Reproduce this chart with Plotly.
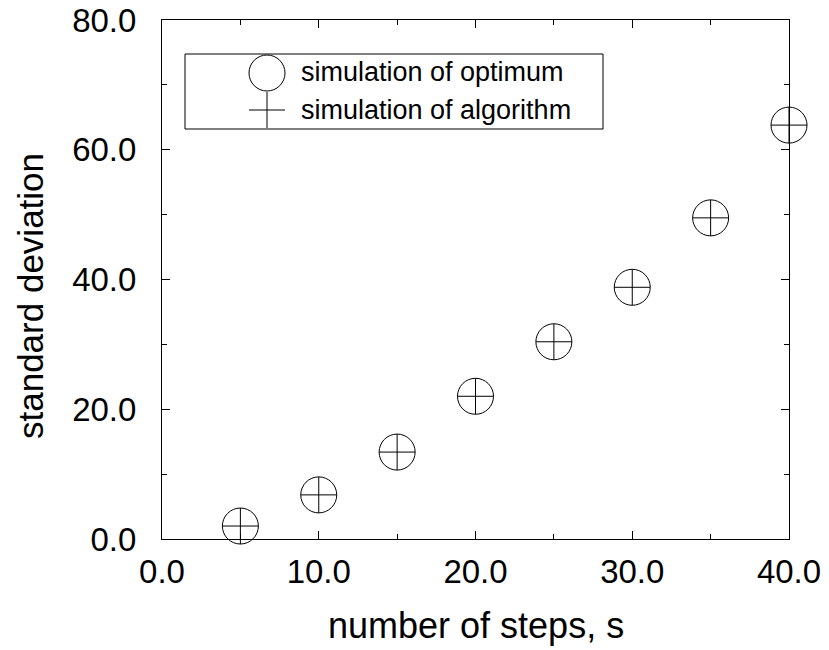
import plotly.graph_objects as go

steps = [5, 10, 15, 20, 25, 30, 35, 40]
sd_optimum = [2.0, 6.8, 13.4, 22.0, 30.4, 38.8, 49.5, 63.8]
sd_algorithm = [2.0, 6.8, 13.4, 22.0, 30.4, 38.8, 49.5, 63.8]
legend_labels = ["simulation of optimum", "simulation of algorithm"]

FONT = "Liberation Sans, Arial, Helvetica, sans-serif"
W, H = 829, 650
L, R, T, B = 162, 40, 20, 111
PW, PH = W - L - R, H - T - B

def px_x(p):
    return (p - L) / PW

def px_y(p):
    return (H - B - p) / PH

CIRCLE = 36
CROSS = CIRCLE / 1.4

fig = go.Figure()
fig.add_trace(go.Scatter(
    x=steps, y=sd_optimum, mode="markers", name=legend_labels[0],
    marker=dict(symbol="circle-open", size=CIRCLE, color="black", line=dict(width=1, color="black")),
    cliponaxis=False, showlegend=False))
fig.add_trace(go.Scatter(
    x=steps, y=sd_algorithm, mode="markers", name=legend_labels[1],
    marker=dict(symbol="cross-thin", size=CROSS, color="black", line=dict(width=1, color="black")),
    cliponaxis=False, showlegend=False))

# custom legend symbols on an overlay axis in paper-like coordinates
fig.add_trace(go.Scatter(
    x=[px_x(267)], y=[px_y(73)], mode="markers", xaxis="x2", yaxis="y2",
    marker=dict(symbol="circle-open", size=CIRCLE, color="black", line=dict(width=1, color="black")),
    cliponaxis=False, showlegend=False, hoverinfo="skip"))
fig.add_trace(go.Scatter(
    x=[px_x(267)], y=[px_y(110)], mode="markers", xaxis="x2", yaxis="y2",
    marker=dict(symbol="cross-thin", size=CROSS, color="black", line=dict(width=1, color="black")),
    cliponaxis=False, showlegend=False, hoverinfo="skip"))

axis_common = dict(
    showline=True, linecolor="black", linewidth=1, mirror="ticks",
    ticks="inside", ticklen=8, tickwidth=1, tickcolor="black",
    showgrid=False, zeroline=False, tickformat=".1f",
    tickfont=dict(family=FONT, size=33, color="black"),
)

fig.update_layout(
    width=W, height=H,
    margin=dict(l=L, r=R, t=T, b=B, autoexpand=False),
    paper_bgcolor="white", plot_bgcolor="white",
    font=dict(family=FONT, color="black"),
    xaxis=dict(range=[0, 40], tickmode="array", tickvals=[0, 10, 20, 30, 40],
               minor=dict(tickvals=[5, 15, 25, 35], ticks="inside", ticklen=5, tickwidth=1, tickcolor="black"),
               ticklabelstandoff=3, **axis_common),
    yaxis=dict(range=[0, 80], tickmode="array", tickvals=[0, 20, 40, 60, 80],
               minor=dict(tickvals=[10, 30, 50, 70], ticks="inside", ticklen=5, tickwidth=1, tickcolor="black"),
               ticklabelstandoff=18, **axis_common),
    xaxis2=dict(range=[0, 1], overlaying="x", visible=False, fixedrange=True),
    yaxis2=dict(range=[0, 1], overlaying="y", visible=False, fixedrange=True),
    shapes=[dict(type="rect", xref="paper", yref="paper",
                 x0=px_x(185), x1=px_x(603), y0=px_y(129), y1=px_y(54),
                 line=dict(color="black", width=1), fillcolor="rgba(0,0,0,0)", layer="below")],
    annotations=[
        dict(text="number of steps, s", xref="paper", yref="paper",
             x=px_x(476), y=px_y(625), xanchor="center", yanchor="middle",
             showarrow=False, font=dict(family=FONT, size=36, color="black")),
        dict(text="standard deviation", xref="paper", yref="paper",
             x=px_x(30), y=px_y(296), xanchor="center", yanchor="middle", textangle=-90,
             showarrow=False, font=dict(family=FONT, size=35, color="black")),
        dict(text=legend_labels[0], xref="paper", yref="paper",
             x=px_x(299), y=px_y(72), xanchor="left", yanchor="middle",
             showarrow=False, font=dict(family=FONT, size=27, color="black")),
        dict(text=legend_labels[1], xref="paper", yref="paper",
             x=px_x(299), y=px_y(110), xanchor="left", yanchor="middle",
             showarrow=False, font=dict(family=FONT, size=27, color="black")),
    ],
)

fig.write_html("out.html")
